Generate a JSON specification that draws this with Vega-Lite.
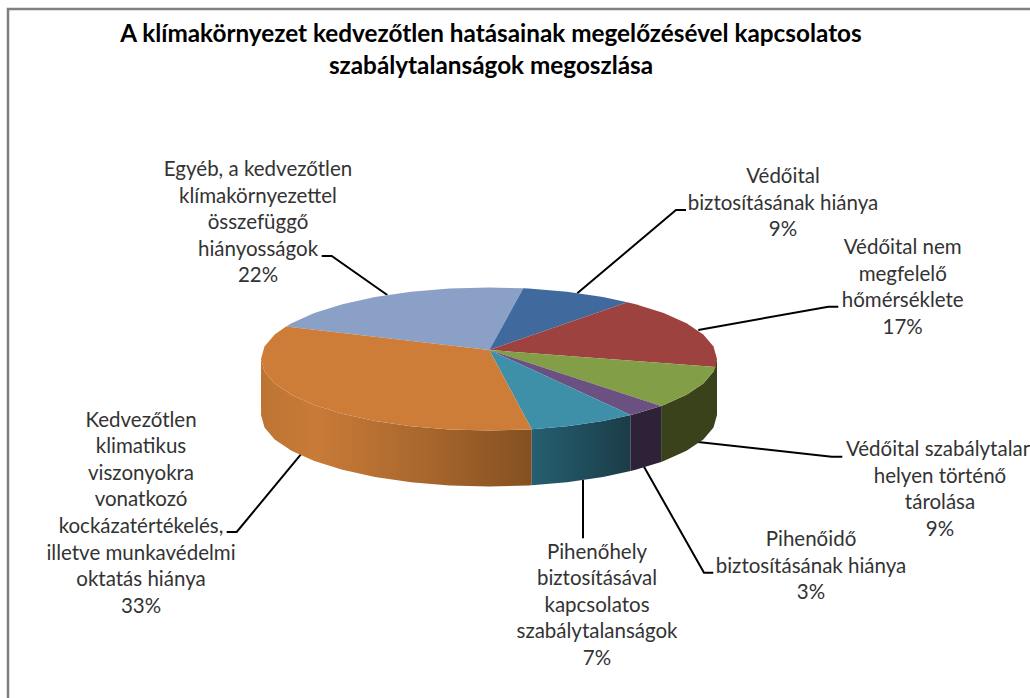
{
"$schema":"https://vega.github.io/schema/vega-lite/v6.json",
"width":1030,"height":698,"padding":0,"autosize":{"type":"none"},"background":"#ffffff",
"config":{"view":{"stroke":null}},
"datasets":{
"frame":[{"x":1030,"y":9,"i":1},{"x":8,"y":9,"i":2},{"x":8,"y":698,"i":3}],
"leaders":[
{"id":"egyeb","i":1,"x":321.7,"y":256},{"id":"egyeb","i":2,"x":331.7,"y":256},{"id":"egyeb","i":3,"x":387.3,"y":295},
{"id":"biztositas","i":1,"x":686,"y":210},{"id":"biztositas","i":2,"x":676,"y":210},{"id":"biztositas","i":3,"x":577.3,"y":293.3},
{"id":"homerseklet","i":1,"x":838.3,"y":306.7},{"id":"homerseklet","i":2,"x":828.3,"y":306.7},{"id":"homerseklet","i":3,"x":698.3,"y":330},
{"id":"tarolas","i":1,"x":695.7,"y":441.7},{"id":"tarolas","i":2,"x":831.7,"y":456.7},{"id":"tarolas","i":3,"x":842.3,"y":456.7},
{"id":"piheno","i":1,"x":644,"y":466.7},{"id":"piheno","i":2,"x":704,"y":572.7},{"id":"piheno","i":3,"x":713.3,"y":572.7},
{"id":"pihenohely","i":1,"x":583,"y":480},{"id":"pihenohely","i":2,"x":583,"y":538.3},
{"id":"kockazat","i":1,"x":301.7,"y":453.3},{"id":"kockazat","i":2,"x":236.7,"y":532},{"id":"kockazat","i":3,"x":226.7,"y":532}
],
"wallOrange":[
{"i":1,"x":261,"y":359},{"i":2,"x":264.5,"y":371.4},{"i":3,"x":274.7,"y":383.5},{"i":4,"x":291.5,"y":394.8},{"i":5,"x":314.3,"y":405},{"i":6,"x":342.4,"y":413.8},{"i":7,"x":375,"y":420.9},{"i":8,"x":411,"y":426.2},{"i":9,"x":449.4,"y":429.4},{"i":10,"x":489,"y":430.5},{"i":11,"x":528.6,"y":429.4},{"i":12,"x":531.7,"y":429.2},
{"i":13,"x":531.7,"y":485.2},{"i":14,"x":528.6,"y":485.4},{"i":15,"x":489,"y":486.5},{"i":16,"x":449.4,"y":485.4},{"i":17,"x":411,"y":482.2},{"i":18,"x":375,"y":476.9},{"i":19,"x":342.4,"y":469.8},{"i":20,"x":314.3,"y":461},{"i":21,"x":291.5,"y":450.8},{"i":22,"x":274.7,"y":439.5},{"i":23,"x":264.5,"y":427.4},{"i":24,"x":261,"y":415}
],
"wallTeal":[
{"i":1,"x":531.7,"y":429.2},{"i":2,"x":567,"y":426.2},{"i":3,"x":603,"y":420.9},{"i":4,"x":630.7,"y":415},
{"i":5,"x":630.7,"y":471},{"i":6,"x":603,"y":476.9},{"i":7,"x":567,"y":482.2},{"i":8,"x":531.7,"y":485.2}
],
"wallPurple":[
{"i":1,"x":630.7,"y":415},{"i":2,"x":635.6,"y":413.8},{"i":3,"x":661.1,"y":405.9},
{"i":4,"x":661.1,"y":461.9},{"i":5,"x":635.6,"y":469.8},{"i":6,"x":630.7,"y":471}
],
"wallGreen":[
{"i":1,"x":661.1,"y":405.9},{"i":2,"x":663.7,"y":405},{"i":3,"x":686.5,"y":394.8},{"i":4,"x":703.3,"y":383.5},{"i":5,"x":713.5,"y":371.4},{"i":6,"x":717,"y":359},
{"i":7,"x":717,"y":415},{"i":8,"x":713.5,"y":427.4},{"i":9,"x":703.3,"y":439.5},{"i":10,"x":686.5,"y":450.8},{"i":11,"x":663.7,"y":461},{"i":12,"x":661.1,"y":461.9}
],
"slices":[
{"slice":"Egyéb","share":22,"i":0,"x":489.3,"y":350},{"slice":"Egyéb","share":22,"i":1,"x":286.1,"y":326.5},{"slice":"Egyéb","share":22,"i":2,"x":291.5,"y":323.3},{"slice":"Egyéb","share":22,"i":3,"x":314.3,"y":313},{"slice":"Egyéb","share":22,"i":4,"x":342.4,"y":304.2},{"slice":"Egyéb","share":22,"i":5,"x":375,"y":297.1},{"slice":"Egyéb","share":22,"i":6,"x":411,"y":291.8},{"slice":"Egyéb","share":22,"i":7,"x":449.4,"y":288.6},{"slice":"Egyéb","share":22,"i":8,"x":489,"y":287.5},{"slice":"Egyéb","share":22,"i":9,"x":523.3,"y":288.3},
{"slice":"Védőital biztosítás","share":9,"i":0,"x":489.3,"y":350},{"slice":"Védőital biztosítás","share":9,"i":1,"x":523.3,"y":288.3},{"slice":"Védőital biztosítás","share":9,"i":2,"x":528.6,"y":288.6},{"slice":"Védőital biztosítás","share":9,"i":3,"x":567,"y":291.8},{"slice":"Védőital biztosítás","share":9,"i":4,"x":603,"y":297.1},{"slice":"Védőital biztosítás","share":9,"i":5,"x":627.3,"y":302.2},
{"slice":"Védőital hőmérséklet","share":17,"i":0,"x":489.3,"y":350},{"slice":"Védőital hőmérséklet","share":17,"i":1,"x":627.3,"y":302.2},{"slice":"Védőital hőmérséklet","share":17,"i":2,"x":635.6,"y":304.2},{"slice":"Védőital hőmérséklet","share":17,"i":3,"x":663.7,"y":313},{"slice":"Védőital hőmérséklet","share":17,"i":4,"x":686.5,"y":323.3},{"slice":"Védőital hőmérséklet","share":17,"i":5,"x":703.3,"y":334.5},{"slice":"Védőital hőmérséklet","share":17,"i":6,"x":713.5,"y":346.6},{"slice":"Védőital hőmérséklet","share":17,"i":7,"x":717,"y":359},{"slice":"Védőital hőmérséklet","share":17,"i":8,"x":715.7,"y":367},
{"slice":"Védőital tárolás","share":9,"i":0,"x":489.3,"y":350},{"slice":"Védőital tárolás","share":9,"i":1,"x":715.7,"y":367},{"slice":"Védőital tárolás","share":9,"i":2,"x":713.5,"y":371.4},{"slice":"Védőital tárolás","share":9,"i":3,"x":703.3,"y":383.5},{"slice":"Védőital tárolás","share":9,"i":4,"x":686.5,"y":394.8},{"slice":"Védőital tárolás","share":9,"i":5,"x":663.7,"y":405},{"slice":"Védőital tárolás","share":9,"i":6,"x":661.1,"y":405.9},
{"slice":"Pihenőidő","share":3,"i":0,"x":489.3,"y":350},{"slice":"Pihenőidő","share":3,"i":1,"x":661.1,"y":405.9},{"slice":"Pihenőidő","share":3,"i":2,"x":635.6,"y":413.8},{"slice":"Pihenőidő","share":3,"i":3,"x":630.7,"y":415},
{"slice":"Pihenőhely","share":7,"i":0,"x":489.3,"y":350},{"slice":"Pihenőhely","share":7,"i":1,"x":630.7,"y":415},{"slice":"Pihenőhely","share":7,"i":2,"x":603,"y":420.9},{"slice":"Pihenőhely","share":7,"i":3,"x":567,"y":426.2},{"slice":"Pihenőhely","share":7,"i":4,"x":531.7,"y":429.2},
{"slice":"Kockázatértékelés","share":33,"i":0,"x":489.3,"y":350},{"slice":"Kockázatértékelés","share":33,"i":1,"x":531.7,"y":429.2},{"slice":"Kockázatértékelés","share":33,"i":2,"x":528.6,"y":429.4},{"slice":"Kockázatértékelés","share":33,"i":3,"x":489,"y":430.5},{"slice":"Kockázatértékelés","share":33,"i":4,"x":449.4,"y":429.4},{"slice":"Kockázatértékelés","share":33,"i":5,"x":411,"y":426.2},{"slice":"Kockázatértékelés","share":33,"i":6,"x":375,"y":420.9},{"slice":"Kockázatértékelés","share":33,"i":7,"x":342.4,"y":413.8},{"slice":"Kockázatértékelés","share":33,"i":8,"x":314.3,"y":405},{"slice":"Kockázatértékelés","share":33,"i":9,"x":291.5,"y":394.8},{"slice":"Kockázatértékelés","share":33,"i":10,"x":274.7,"y":383.5},{"slice":"Kockázatértékelés","share":33,"i":11,"x":264.5,"y":371.4},{"slice":"Kockázatértékelés","share":33,"i":12,"x":261,"y":359},{"slice":"Kockázatértékelés","share":33,"i":13,"x":264.5,"y":346.6},{"slice":"Kockázatértékelés","share":33,"i":14,"x":274.7,"y":334.5},{"slice":"Kockázatértékelés","share":33,"i":15,"x":286.1,"y":326.5}
],
"labels":[
{"label":"Egyéb, a kedvezőtlen\nklímakörnyezettel\nösszefüggő\nhiányosságok\n22%","x":258,"y":170},
{"label":"Védőital\nbiztosításának hiánya\n9%","x":783,"y":177},
{"label":"Védőital nem\nmegfelelő\nhőmérséklete\n17%","x":902.7,"y":248},
{"label":"Védőital szabálytalan\nhelyen történő\ntárolása\n9%","x":940,"y":450},
{"label":"Pihenőidő\nbiztosításának hiánya\n3%","x":811,"y":540},
{"label":"Pihenőhely\nbiztosításával\nkapcsolatos\nszabálytalanságok\n7%","x":597,"y":552.7},
{"label":"Kedvezőtlen\nklimatikus\nviszonyokra\nvonatkozó\nkockázatértékelés,\nilletve munkavédelmi\noktatás hiánya\n33%","x":141,"y":420.7}
],
"title":[
{"label":"A klímakörnyezet kedvezőtlen hatásainak megelőzésével kapcsolatos\nszabálytalanságok megoszlása","x":491,"y":35}
]
},
"encoding":{
"x":{"field":"x","type":"quantitative","scale":{"domain":[0,1030],"nice":false,"zero":false},"axis":null},
"y":{"field":"y","type":"quantitative","scale":{"domain":[698,0],"nice":false,"zero":false},"axis":null}
},
"layer":[
{"data":{"name":"frame"},"mark":{"type":"line","stroke":"#808080","strokeWidth":2.5},"encoding":{"order":{"field":"i"}}},
{"data":{"name":"leaders"},"mark":{"type":"line","stroke":"#000000","strokeWidth":2},"encoding":{"order":{"field":"i"},"detail":{"field":"id"}}},
{"data":{"name":"wallOrange"},"mark":{"type":"line","strokeWidth":0,"fill":{"gradient":"linear","x1":0,"x2":1,"y1":0,"y2":0,"stops":[{"offset":0,"color":"#bd7433"},{"offset":0.2,"color":"#c97b38"},{"offset":0.6,"color":"#a9672d"},{"offset":1,"color":"#845021"}]}},"encoding":{"order":{"field":"i"}}},
{"data":{"name":"wallTeal"},"mark":{"type":"line","strokeWidth":0,"fill":{"gradient":"linear","x1":0,"x2":1,"y1":0,"y2":0,"stops":[{"offset":0,"color":"#255f71"},{"offset":1,"color":"#1b3c47"}]}},"encoding":{"order":{"field":"i"}}},
{"data":{"name":"wallPurple"},"mark":{"type":"line","strokeWidth":0,"fill":"#2e2238"},"encoding":{"order":{"field":"i"}}},
{"data":{"name":"wallGreen"},"mark":{"type":"line","strokeWidth":0,"fill":"#3a421b"},"encoding":{"order":{"field":"i"}}},
{"data":{"name":"slices"},"mark":{"type":"line","strokeWidth":0},"encoding":{"order":{"field":"i"},
"fill":{"field":"slice","type":"nominal","legend":null,"scale":{"domain":["Egyéb","Védőital biztosítás","Védőital hőmérséklet","Védőital tárolás","Pihenőidő","Pihenőhely","Kockázatértékelés"],"range":["#8ba0c6","#406a9e","#9e4240","#829f47","#6b5082","#3e90a9","#cd7d38"]}}}},
{"data":{"name":"labels"},"mark":{"type":"text","font":"Lato","fontSize":20.5,"lineHeight":26.6,"lineBreak":"\n","align":"center","baseline":"middle","fill":"#333333"},"encoding":{"text":{"field":"label"}}},
{"data":{"name":"title"},"mark":{"type":"text","font":"Lato","fontSize":24.3,"fontWeight":"bold","lineHeight":32,"lineBreak":"\n","align":"center","baseline":"middle","fill":"#000000"},"encoding":{"text":{"field":"label"}}}
]
}
